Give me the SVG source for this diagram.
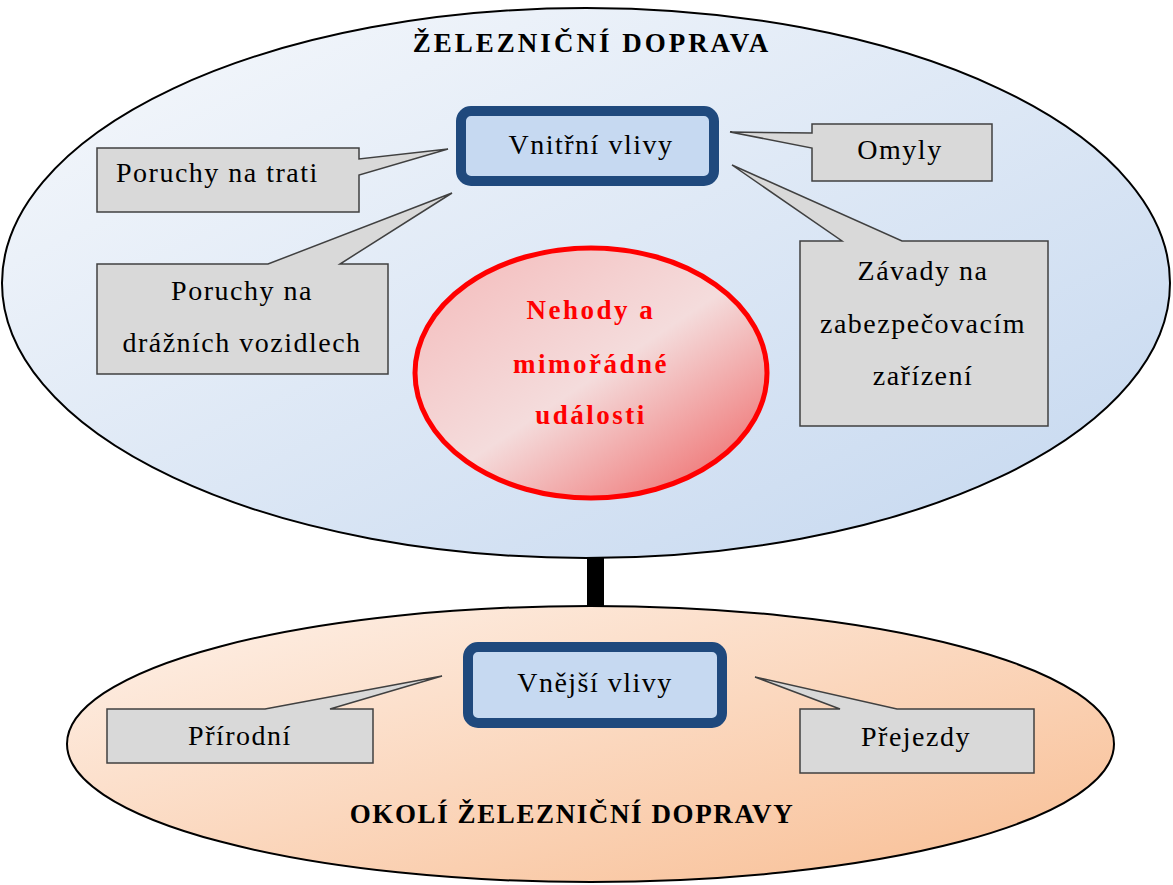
<svg xmlns="http://www.w3.org/2000/svg" width="1173" height="885" viewBox="0 0 1173 885">
  <defs>
    <linearGradient id="gBlue" x1="0" y1="0" x2="1" y2="1">
      <stop offset="0" stop-color="#f7f9fc"/>
      <stop offset="1" stop-color="#c4d7ef"/>
    </linearGradient>
    <linearGradient id="gPeach" x1="0" y1="0" x2="1" y2="1">
      <stop offset="0" stop-color="#fef2ea"/>
      <stop offset="1" stop-color="#f8bd92"/>
    </linearGradient>
    <linearGradient id="gRed" x1="0.1" y1="0.1" x2="0.9" y2="0.95">
      <stop offset="0" stop-color="#f4c0c0"/>
      <stop offset="0.5" stop-color="#f4dcdc"/>
      <stop offset="1" stop-color="#ef7070"/>
    </linearGradient>
    <style>
      .big { stroke: #000; stroke-width: 2; }
      .box { fill: #c6d9f1; stroke: #1f497d; stroke-width: 10; }
      .call { fill: #d9d9d9; stroke: #404040; stroke-width: 1.5; stroke-linejoin: miter; }
      .t { font-family: "Liberation Serif", "Times New Roman", serif; font-size: 28px; fill: #000; letter-spacing: 1.5px; }
      .c { text-anchor: middle; }
      .title { font-family: "Liberation Serif", "Times New Roman", serif; font-size: 27px; font-weight: bold; fill: #000; text-anchor: middle; }
      .red { font-family: "Liberation Serif", "Times New Roman", serif; font-size: 27px; font-weight: bold; fill: #ff0000; text-anchor: middle; letter-spacing: 2.5px; }
    </style>
  </defs>

  <g id="connectors">
    <line x1="595.5" y1="556" x2="595.5" y2="609" stroke="#000" stroke-width="17"/>
  </g>

  <g id="zeleznicni-doprava">
    <ellipse cx="586" cy="283" rx="584" ry="275" fill="url(#gBlue)" class="big"/>
    <text class="title" x="592" y="52" style="letter-spacing:3px">ŽELEZNIČNÍ DOPRAVA</text>
  </g>

  <g id="okoli">
    <ellipse cx="590.5" cy="744" rx="523.5" ry="138" fill="url(#gPeach)" class="big"/>
    <text class="title" x="572" y="823" style="letter-spacing:1.6px">OKOLÍ ŽELEZNIČNÍ DOPRAVY</text>
  </g>

  <g id="nehody">
    <ellipse cx="591" cy="373" rx="176" ry="125" fill="url(#gRed)" stroke="#ff0000" stroke-width="5"/>
    <text class="red" x="591" y="319">Nehody a</text>
    <text class="red" x="591" y="373">mimořádné</text>
    <text class="red" x="591" y="424">události</text>
  </g>

  <g id="vnitrni-vlivy">
    <rect x="461" y="111" width="253" height="70" rx="10" class="box"/>
    <text class="t c" x="591" y="154">Vnitřní vlivy</text>
  </g>

  <g id="vnejsi-vlivy">
    <rect x="468" y="647" width="254" height="76" rx="10" class="box"/>
    <text class="t c" x="595" y="692">Vnější vlivy</text>
  </g>

  <g id="poruchy-trati">
    <path class="call" d="M97,148 H359 V159 L448,149 L359,175 V212 H97 Z"/>
    <text class="t" x="116" y="182">Poruchy na trati</text>
  </g>

  <g id="poruchy-vozidla">
    <path class="call" d="M97,264 H268 L452,193 L340,264 H388 V374 H97 Z"/>
    <text class="t c" x="242" y="300">Poruchy na</text>
    <text class="t c" x="242" y="352">drážních vozidlech</text>
  </g>

  <g id="omyly">
    <path class="call" d="M812,124 H992 V181 H812 V148 L730,132 L812,133 Z"/>
    <text class="t c" x="900" y="159">Omyly</text>
  </g>

  <g id="zavady">
    <path class="call" d="M800,241 H842 L732,165 L902,241 H1048 V426 H800 Z"/>
    <text class="t c" x="923" y="280">Závady na</text>
    <text class="t c" x="923" y="333">zabezpečovacím</text>
    <text class="t c" x="923" y="385">zařízení</text>
  </g>

  <g id="prirodni">
    <path class="call" d="M107,709 H265 L442,676 L330,709 H373 V763 H107 Z"/>
    <text class="t c" x="240" y="745">Přírodní</text>
  </g>

  <g id="prejezdy">
    <path class="call" d="M800,709 H840 L755,677 L897,709 H1034 V773 H800 Z"/>
    <text class="t c" x="916" y="746">Přejezdy</text>
  </g>
</svg>
